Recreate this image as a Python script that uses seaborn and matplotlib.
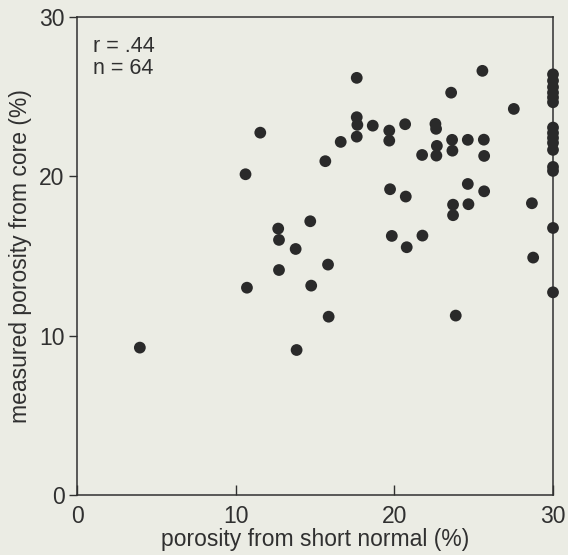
import numpy as np
import pandas as pd
import seaborn as sns
import matplotlib.pyplot as plt

# porosity values (%)
short_normal = [3.96, 10.62, 11.55, 10.71, 12.68, 12.73, 12.73, 13.78, 13.84, 14.70,
                14.76, 15.65, 15.82, 15.86, 16.62, 17.63, 17.63, 17.67, 17.63, 18.64,
                19.68, 19.68, 19.73, 19.84, 20.68, 20.72, 20.78, 21.75, 21.77, 22.59,
                22.63, 22.68, 22.65, 23.58, 23.64, 23.66, 23.70, 23.70, 23.87, 24.63,
                24.63, 24.67, 25.55, 25.64, 25.66, 25.66, 27.53, 28.67, 28.75,
                30.0, 30.0, 30.0, 30.0, 30.0, 30.0, 30.0, 30.0, 30.0, 30.0,
                30.0, 30.0, 30.0, 30.0, 30.0]
core = [9.25, 20.13, 22.74, 13.01, 16.72, 16.01, 14.12, 15.44, 9.10, 17.18,
        13.14, 20.95, 14.46, 11.19, 22.16, 26.18, 23.71, 23.23, 22.49, 23.18,
        22.87, 22.24, 19.19, 16.26, 23.27, 18.73, 15.55, 21.34, 16.28, 23.29,
        22.98, 21.91, 21.30, 25.25, 22.29, 21.61, 18.22, 17.56, 11.26, 22.29,
        19.52, 18.25, 26.62, 22.30, 21.28, 19.06, 24.23, 18.31, 14.90,
        26.40, 26.00, 25.60, 25.25, 24.95, 24.65, 23.06, 22.72, 22.41, 22.10,
        21.66, 20.59, 20.34, 16.76, 12.72]

df = pd.DataFrame({"short": short_normal, "core": core})

bg = "#ebece4"
ink = "#303030"
sns.set_style("ticks")
plt.rcParams["font.family"] = ["Liberation Sans", "DejaVu Sans"]

fig = plt.figure(figsize=(5.68, 5.55), dpi=100, facecolor=bg)
ax = fig.add_axes([0.1356, 0.1081, 0.838, 0.8613], facecolor=bg)

sns.scatterplot(data=df, x="short", y="core", ax=ax, s=72, color="#2a2a2a",
                edgecolor="none", clip_on=False, zorder=3)

ax.set_xlim(0, 30)
ax.set_ylim(0, 30)
ax.set_xticks([0, 10, 20, 30])
ax.set_yticks([0, 10, 20, 30])
ax.tick_params(axis="x", direction="in", length=7, width=1, labelsize=16.5, pad=7, colors=ink)
ax.tick_params(axis="y", direction="out", length=6, width=1, labelsize=16.5, pad=3, colors=ink)
for sp in ax.spines.values():
    sp.set_visible(True)
    sp.set_color(ink)
    sp.set_linewidth(1.1)

ax.set_xlabel("porosity from short normal (%)", fontsize=16.5, color=ink, labelpad=0)
ax.set_ylabel("measured porosity from core (%)", fontsize=16.5, color=ink, labelpad=5)

ax.text(0.033, 0.96, "r = .44\nn = 64", transform=ax.transAxes, fontsize=15.5,
        va="top", ha="left", color=ink, linespacing=1.05)

fig.savefig("out.png", dpi=100, facecolor=bg)
